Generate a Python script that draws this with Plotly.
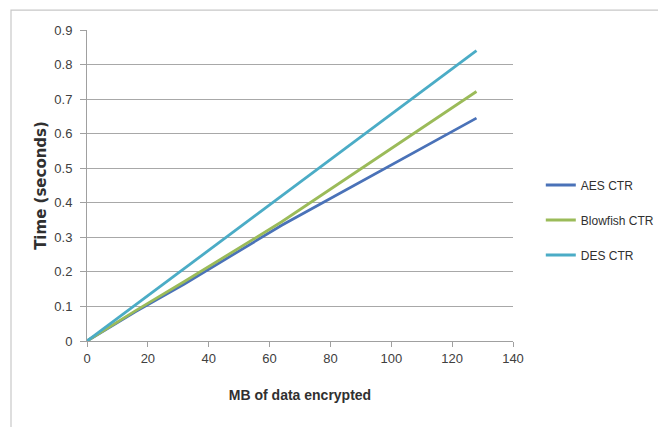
import plotly.graph_objects as go

mb = [0, 16, 32, 64, 128]
aes_ctr = [0, 0.085, 0.165, 0.335, 0.645]
blowfish_ctr = [0, 0.088, 0.172, 0.345, 0.722]
des_ctr = [0, 0.105, 0.21, 0.42, 0.84]

series_names = ["AES CTR", "Blowfish CTR", "DES CTR"]
series_values = [aes_ctr, blowfish_ctr, des_ctr]
colors = ["#4A72B8", "#9BBB59", "#4BACC6"]

x_ticks = [0, 20, 40, 60, 80, 100, 120, 140]
y_ticks = [0, 0.1, 0.2, 0.3, 0.4, 0.5, 0.6, 0.7, 0.8, 0.9]

font_family = "Liberation Sans, Arial"

fig = go.Figure()
for name, vals, c in zip(series_names, series_values, colors):
    fig.add_trace(go.Scatter(x=mb, y=vals, name=name, mode="lines",
                             line=dict(color=c, width=2.8), legendgroup=name))

fig.update_layout(
    width=666, height=427,
    margin=dict(l=79, r=161, t=22, b=94),
    paper_bgcolor="white", plot_bgcolor="white",
    font=dict(family=font_family, size=13, color="#404040"),
    showlegend=True,
    legend=dict(xref="container", yref="container", x=0.800, y=0.5035,
                xanchor="left", yanchor="middle",
                font=dict(size=12, color="#303030", family=font_family),
                tracegroupgap=16, itemwidth=30, bgcolor="rgba(0,0,0,0)"),
    xaxis=dict(range=[0, 140], tickvals=x_ticks, showgrid=False,
               showline=True, linecolor="#A0A0A0", linewidth=1,
               ticks="outside", ticklen=5, tickcolor="#A0A0A0",
               tickfont=dict(size=13), zeroline=False,
               title=dict(text="<b>MB of data encrypted</b>", font=dict(size=14, color="#303030"), standoff=25)),
    yaxis=dict(range=[0, 0.9], tickvals=y_ticks, ticktext=[("%g" % v) for v in y_ticks],
               showgrid=True, gridcolor="#A8A8A8", gridwidth=1.3,
               showline=True, linecolor="#A0A0A0", linewidth=1,
               ticks="outside", ticklen=6, tickcolor="#A0A0A0",
               ticklabelstandoff=5,
               tickfont=dict(size=13), zeroline=False,
               title=dict(text="<b>Time (seconds)</b>", font=dict(size=15, color="#303030", family="DejaVu Sans"), standoff=4)),
    shapes=[dict(type="rect", xref="paper", yref="paper",
                 x0=-0.1784, x1=1.375, y0=-0.3, y1=1.064,
                 line=dict(color="#C8C8C8", width=1.2), fillcolor="rgba(0,0,0,0)", layer="below")],
)

fig.write_html("out.html")
